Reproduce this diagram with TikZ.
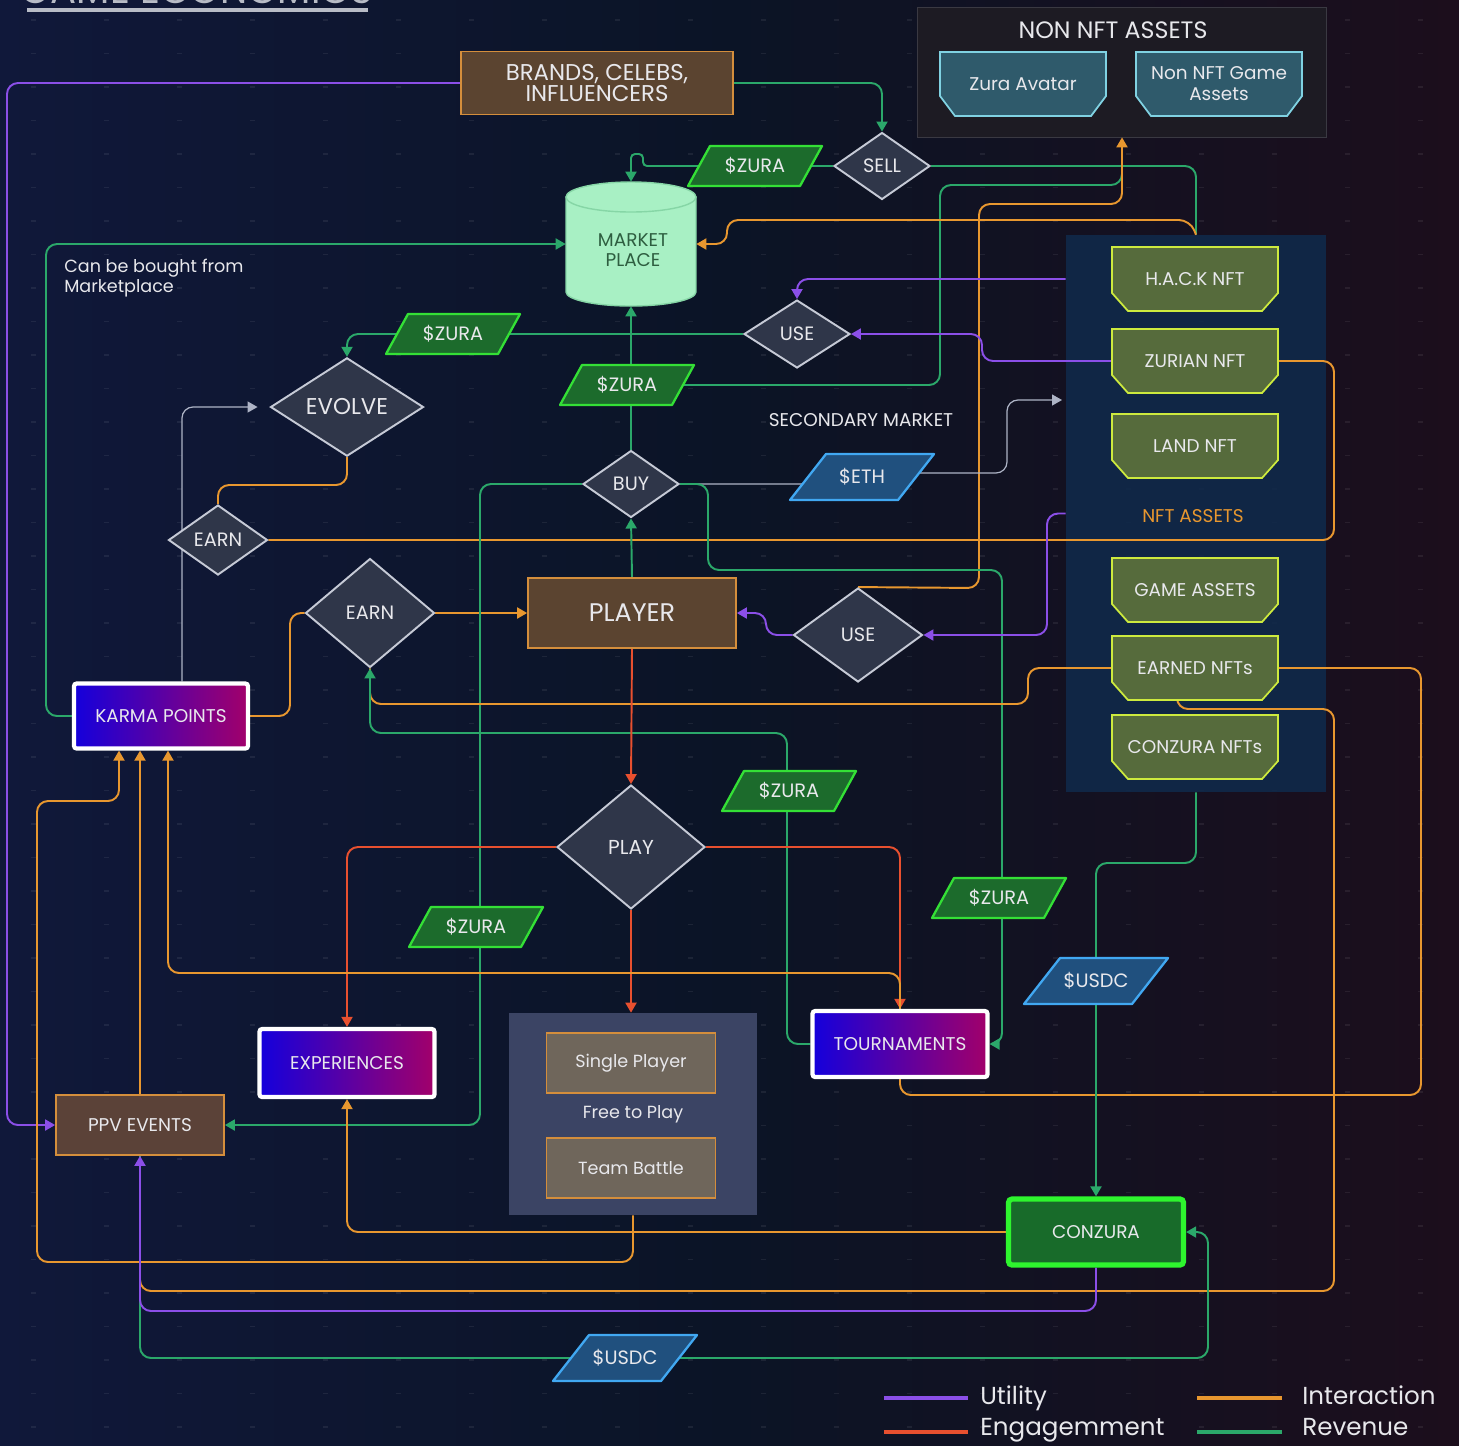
\documentclass[tikz,border=0pt]{standalone}
\usepackage{fontspec}
\setmainfont{Poppins}
\usetikzlibrary{arrows.meta,shapes.geometric}
\pgfdeclarelayer{bgl}
\pgfdeclarelayer{lines}
\pgfsetlayers{bgl,lines,main}

\definecolor{bgA}{HTML}{10183A}
\definecolor{bgB}{HTML}{0B1426}
\definecolor{bgC}{HTML}{1C0E1C}
\definecolor{cpur}{HTML}{8B4FE8}
\definecolor{corg}{HTML}{E8972F}
\definecolor{cred}{HTML}{E8502F}
\definecolor{cgrn}{HTML}{2BA86A}
\definecolor{cgry}{HTML}{AEB4C6}
\definecolor{diaF}{HTML}{2F3649}
\definecolor{diaD}{HTML}{C6CAD6}
\definecolor{brnF}{HTML}{5B4430}
\definecolor{brnD}{HTML}{D48E3C}
\definecolor{ppvF}{HTML}{5B4238}
\definecolor{zgF}{HTML}{1C6B2C}
\definecolor{zgD}{HTML}{34E036}
\definecolor{ubF}{HTML}{20507E}
\definecolor{ubD}{HTML}{41A8F2}
\definecolor{gradL}{HTML}{1400DC}
\definecolor{gradR}{HTML}{A2006A}
\definecolor{mpF}{HTML}{A8F0C4}
\definecolor{mpD}{HTML}{86D6A6}
\definecolor{mpT}{HTML}{2E5E40}
\definecolor{nftF}{HTML}{566B3C}
\definecolor{nftD}{HTML}{CDEA3E}
\definecolor{nnF}{HTML}{2F5A6B}
\definecolor{nnD}{HTML}{80D2E2}
\definecolor{nftBox}{HTML}{10294A}
\definecolor{nnBox}{HTML}{1D1B23}
\definecolor{nnBoxD}{HTML}{3A3942}
\definecolor{ftpF}{HTML}{3B4464}
\definecolor{spF}{HTML}{6F665B}
\definecolor{czF}{HTML}{186B2A}
\definecolor{czD}{HTML}{2EF52E}
\definecolor{txt}{HTML}{E8E8EC}
\definecolor{ulc}{HTML}{B8BCC6}

\newcommand{\fsz}[2]{\fontsize{#1}{#2}\selectfont}

\tikzset{
  ln/.style={line width=1.1pt, rounded corners=0.22cm},
  lpur/.style={ln, draw=cpur},
  lorg/.style={ln, draw=corg},
  lred/.style={ln, draw=cred},
  lgrn/.style={ln, draw=cgrn},
  lgry/.style={ln, draw=cgry, line width=0.7pt},
  tipA/.style={-{Triangle[length=2mm,width=2.2mm]}},
  dia/.style={diamond, draw=diaD, fill=diaF, line width=1.1pt, text=txt, inner sep=0pt, font=\fsz{11}{13}},
  rbox/.style={rectangle, inner sep=0pt, align=center, text=txt},
  brn/.style={rbox, draw=brnD, fill=brnF, line width=1pt},
  ppvs/.style={rbox, draw=brnD, fill=ppvF, line width=1pt, font=\fsz{10.5}{12}},
  grad/.style={rbox, draw=white, line width=2.4pt, left color=gradL, right color=gradR, rounded corners=1.5pt, font=\fsz{10.5}{12}},
  czs/.style={rbox, draw=czD, fill=czF, line width=3pt, rounded corners=2pt, font=\fsz{10.5}{12}},
  sps/.style={rbox, draw=brnD, fill=spF, line width=0.9pt, font=\fsz{10}{12}},
  partxt/.style={inner sep=0pt, text=txt, font=\fsz{11}{13}},
  cardtxt/.style={inner sep=0pt, text=txt, align=center, font=\fsz{10.5}{12}},
  nftshape/.style={fill=nftF, draw=nftD, line width=1pt},
  nnshape/.style={fill=nnF, draw=nnD, line width=1pt},
  zgpar/.style={fill=zgF, draw=zgD, line width=1.3pt, line join=round},
  ubpar/.style={fill=ubF, draw=ubD, line width=1.3pt, line join=round},
  ghost/.style={inner sep=0pt, draw=none},
  plain/.style={inner sep=0pt, text=txt},
  legtxt/.style={anchor=base west, inner sep=0pt, text=txt, font=\fsz{14}{16}}
}

\newcommand{\gpara}[4]{%
  \draw[zgpar] (#2-67,#3+20) -- (#2+45,#3+20) -- (#2+67,#3-20) -- (#2-45,#3-20) -- cycle;
  \node[partxt, minimum width=2.2cm, minimum height=0.8cm] (#1) at (#2,#3) {#4};}
\newcommand{\bpara}[4]{%
  \draw[ubpar] (#2-72,#3+23) -- (#2+36,#3+23) -- (#2+72,#3-23) -- (#2-36,#3-23) -- cycle;
  \node[partxt, minimum width=2.2cm, minimum height=0.92cm] (#1) at (#2,#3) {#4};}
\newcommand{\nftcard}[4]{%
  \draw[nftshape] (#2-83,#3-32) -- (#2+83,#3-32) -- (#2+83,#3+14) -- (#2+67,#3+32) -- (#2-67,#3+32) -- (#2-83,#3+14) -- cycle;
  \node[cardtxt, minimum width=3.32cm, minimum height=1.28cm] (#1) at (#2,#3) {#4};}
\newcommand{\nncard}[4]{%
  \draw[nnshape] (#2-83,#3-32) -- (#2+83,#3-32) -- (#2+83,#3+12) -- (#2+68,#3+32) -- (#2-68,#3+32) -- (#2-83,#3+12) -- cycle;
  \node[cardtxt, minimum width=3.32cm, minimum height=1.28cm] (#1) at (#2,#3) {#4};}

\begin{document}
\begin{tikzpicture}[x=0.02cm,y=-0.02cm]
\useasboundingbox (0,0) rectangle (1459,1445);

% ---------- background ----------
\begin{pgfonlayer}{bgl}
\shade[left color=bgA, right color=bgC, middle color=bgB] (0,0) rectangle (1459,1445);
\foreach \i in {0,...,19}{
  \foreach \j in {0,...,42}{
    \draw[white, opacity=0.07, line width=1.1pt] (31+73*\i,20+33.5*\j) -- ++(5,0);
  }
}
\node[draw=nnBoxD, fill=nnBox, minimum width=8.18cm, minimum height=2.6cm, inner sep=0pt] (nonnft) at (1122,72) {};
\node[fill=nftBox, opacity=0.9, minimum width=5.2cm, minimum height=11.14cm, inner sep=0pt] (nftbox) at (1196,513.5) {};
\node[fill=ftpF, minimum width=4.96cm, minimum height=4.04cm, inner sep=0pt] (ftp) at (633,1114) {};
\end{pgfonlayer}

% ---------- title (cut at top, as in the reference) ----------
\node[anchor=base, text=ulc, font=\fsz{22}{24}] (title) at (197,3) {GAME ECONOMICS};
\draw[ulc, line width=1.8pt] (27,10) -- (368,10);

% ---------- containers text ----------
\node[plain, font=\fsz{13.5}{15}] (nntitle) at (1113,30) {NON NFT ASSETS};
\node[inner sep=0pt, text=corg, font=\fsz{10.5}{12}] (nftlbl) at (1193,516) {NFT ASSETS};
\node[plain, font=\fsz{10}{12}] (ftplbl) at (633,1114) {Free to Play};

% ---------- nodes ----------
\node[brn, minimum width=5.44cm, minimum height=1.26cm, font=\fsz{13}{12.5}] (brands) at (597,83) {BRANDS, CELEBS,\\INFLUENCERS};

\nncard{avatar}{1023}{84}{Zura Avatar}
\nncard{nngame}{1219}{84}{Non NFT Game\\Assets}

% market place cylinder
\filldraw[fill=mpF, draw=mpD, line width=0.8pt] (566,197) -- (566,292) arc[start angle=180, end angle=360, x radius=1.3cm, y radius=0.28cm] -- (696,197) -- cycle;
\filldraw[fill=mpF, draw=mpD, line width=0.8pt] (631,197) ellipse[x radius=1.3cm, y radius=0.3cm];
\node[ghost, minimum width=2.6cm, minimum height=2.48cm] (mp) at (631,244) {};
\node[inner sep=0pt, text=mpT, align=center, font=\fsz{10.5}{11.5}] (mplbl) at (633,250) {MARKET\\PLACE};

\node[dia, minimum width=1.92cm, minimum height=1.34cm] (sell) at (882,166) {SELL};
\node[dia, minimum width=2.12cm, minimum height=1.36cm] (use1) at (797,334) {USE};
\node[dia, minimum width=3.06cm, minimum height=1.94cm, font=\fsz{13}{15}] (evolve) at (347,407) {EVOLVE};
\node[dia, minimum width=1.92cm, minimum height=1.34cm] (buy) at (631,484) {BUY};
\node[dia, minimum width=1.98cm, minimum height=1.40cm] (earn1) at (218,540) {EARN};
\node[dia, minimum width=2.58cm, minimum height=2.18cm] (earn2) at (370,613) {EARN};
\node[dia, minimum width=2.58cm, minimum height=1.88cm] (use2) at (858,635) {USE};
\node[dia, minimum width=2.96cm, minimum height=2.48cm, font=\fsz{11.5}{13}] (play) at (631,847) {PLAY};

\node[brn, minimum width=4.16cm, minimum height=1.4cm, font=\fsz{14.5}{16}] (player) at (632,613) {PLAYER};
\node[grad, minimum width=3.48cm, minimum height=1.3cm] (karma) at (161,716) {KARMA POINTS};
\node[grad, minimum width=3.5cm, minimum height=1.36cm] (exper) at (347,1063) {EXPERIENCES};
\node[grad, minimum width=3.5cm, minimum height=1.32cm] (tourn) at (900,1044) {TOURNAMENTS};
\node[ppvs, minimum width=3.36cm, minimum height=1.2cm] (ppv) at (140,1125) {PPV EVENTS};
\node[sps, minimum width=3.38cm, minimum height=1.2cm] (single) at (631,1063) {Single Player};
\node[sps, minimum width=3.38cm, minimum height=1.2cm] (team) at (631,1168) {Team Battle};
\node[czs, minimum width=3.5cm, minimum height=1.32cm] (conzura) at (1096,1232) {CONZURA};

\nftcard{hack}{1195}{279}{H.A.C.K NFT}
\nftcard{zurian}{1195}{361}{ZURIAN NFT}
\nftcard{land}{1195}{446}{LAND NFT}
\nftcard{game}{1195}{590}{GAME ASSETS}
\nftcard{earned}{1195}{668}{EARNED NFTs}
\nftcard{conz}{1195}{747}{CONZURA NFTs}

\gpara{zura1}{755}{166}{\$ZURA}
\gpara{zura2}{453}{334}{\$ZURA}
\gpara{zura3}{627}{385}{\$ZURA}
\gpara{zura4}{789}{791}{\$ZURA}
\gpara{zura5}{999}{898}{\$ZURA}
\gpara{zura6}{476}{927}{\$ZURA}
\bpara{eth}{862}{477}{\$ETH}
\bpara{usdc1}{1096}{981}{\$USDC}
\bpara{usdc2}{625}{1358}{\$USDC}

\node[anchor=north west, align=left, inner sep=0pt, text=txt, font=\fsz{10}{11.5}] (note) at (64,259) {Can be bought from\\Marketplace};
\node[plain, font=\fsz{10.5}{12}] (secmkt) at (861,420) {SECONDARY MARKET};

\coordinate (secin) at (1062,400);

% ---------- connectors ----------
\begin{pgfonlayer}{lines}
\draw[lpur,tipA] (brands.west) -- (7,83) -- (7,1125) -- (ppv.west);
\draw[lgrn,tipA] (brands.east) -- (882,83) -- (sell.north);
\draw[lgrn,tipA,rounded corners=0.08cm] (sell.west) -- (643,166) -- (643,154) -- (631,154) -- (mp.north);
\draw[lgrn] (sell.east) -- (1196,166) -- (nftbox.north);
\draw[lgrn] (zura3.east) -- (940,385) -- (940,185) -- (1122,185) -- (1122,150);
\draw[lorg,tipA] (use2.north) -- (979,588) -- (979,204) -- (1122,204) -- (nonnft.south);
\draw[lorg,tipA] (nftbox.north) -- (1190,220) -- (727,220) -- (727,244) -- (mp.east);
\draw[lgrn,tipA] (karma.west) -- (46,716) -- (46,244) -- (mp.west);
\draw[lpur,tipA] (nftbox.west |- hack.west) -- (797,279) -- (use1.north);
\draw[lpur,tipA] (zurian.west) -- (982,361) -- (982,334) -- (use1.east);
\draw[lgrn,tipA] (use1.west) -- (347,334) -- (evolve.north);
\draw[lgrn,tipA] (buy.north) -- (mp.south);
\draw[lgry,tipA,shorten >=0.24cm] ([xshift=0.42cm]karma.north) -- (182,407) -- (evolve.west);
\draw[lorg] (evolve.south) -- (347,485) -- (218,485) -- (earn1.north);
\draw[lorg] (earn1.east) -- (1334,540) -- (1334,361) -- (zurian.east);
\draw[lorg] (karma.east) -- (290,716) -- (290,613) -- (earn2.west);
\draw[lorg,tipA] (earn2.east) -- (player.west);
\draw[lgrn,tipA] (player.north) -- (buy.south);
\draw[lgry,tipA] (buy.east) -- (870,484) -- (870,473) -- (1007,473) -- (1007,400) -- (secin);
\draw[lgrn,tipA] (buy.west) -- (480,484) -- (480,1125) -- (ppv.east);
\draw[lgrn,tipA] (buy.east) -- (708,484) -- (708,570) -- (1002,570) -- (1002,1044) -- (tourn.east);
\draw[lpur,tipA] (nftbox.west) -- (1047,513.5) -- (1047,635) -- (use2.east);
\draw[lpur,tipA] (use2.west) -- (766,635) -- (766,613) -- (player.east);
\draw[lorg] (earned.west) -- (1028,668) -- (1028,704) -- (370,704) -- (earn2.south);
\draw[lgrn,tipA] (tourn.west) -- (787,1044) -- (787,733) -- (370,733) -- (earn2.south);
\draw[lred,tipA] (player.south) -- (play.north);
\draw[lred,tipA] (play.west) -- (347,847) -- (exper.north);
\draw[lred,tipA] (play.east) -- (900,847) -- (tourn.north);
\draw[lred,tipA] (play.south) -- (play.south |- ftp.north);
\draw[lorg,tipA] (tourn.north) -- (900,973) -- (168,973) -- ([xshift=0.14cm]karma.south);
\draw[lorg,tipA] (ppv.north) -- (ppv.north |- karma.south);
\draw[lorg,tipA] (ftp.south) -- (633,1262) -- (37,1262) -- (37,801) -- (119,801) -- ([xshift=-0.84cm]karma.south);
\draw[lorg,tipA] (conzura.west) -- (347,1232) -- (exper.south);
\draw[lorg] (earned.east) -- (1421,668) -- (1421,1095) -- (900,1095) -- (tourn.south);
\draw[lorg] ([xshift=-0.36cm]earned.south) -- (1177,709) -- (1334,709) -- (1334,1291) -- (140,1291) -- (ppv.south);
\draw[lgrn,tipA] (ppv.south) -- (140,1358) -- (1208,1358) -- (1208,1232) -- (conzura.east);
\draw[lgrn,tipA] (nftbox.south) -- (1196,863) -- (1096,863) -- (conzura.north);
\draw[lpur,tipA] (conzura.south) -- (1096,1311) -- (140,1311) -- (ppv.south);
\end{pgfonlayer}

% ---------- legend ----------
\draw[cpur, line width=1.8pt] (884,1398) -- (968,1398);
\node[legtxt] (lgu) at (980,1404) {Utility};
\draw[corg, line width=1.8pt] (1197,1398) -- (1282,1398);
\node[legtxt] (lgi) at (1302,1404) {Interaction};
\draw[cred, line width=1.8pt] (884,1432) -- (968,1432);
\node[legtxt] (lge) at (980,1435) {Engagemment};
\draw[cgrn, line width=1.8pt] (1197,1432) -- (1282,1432);
\node[legtxt] (lgr) at (1302,1435) {Revenue};
\end{tikzpicture}
\end{document}
